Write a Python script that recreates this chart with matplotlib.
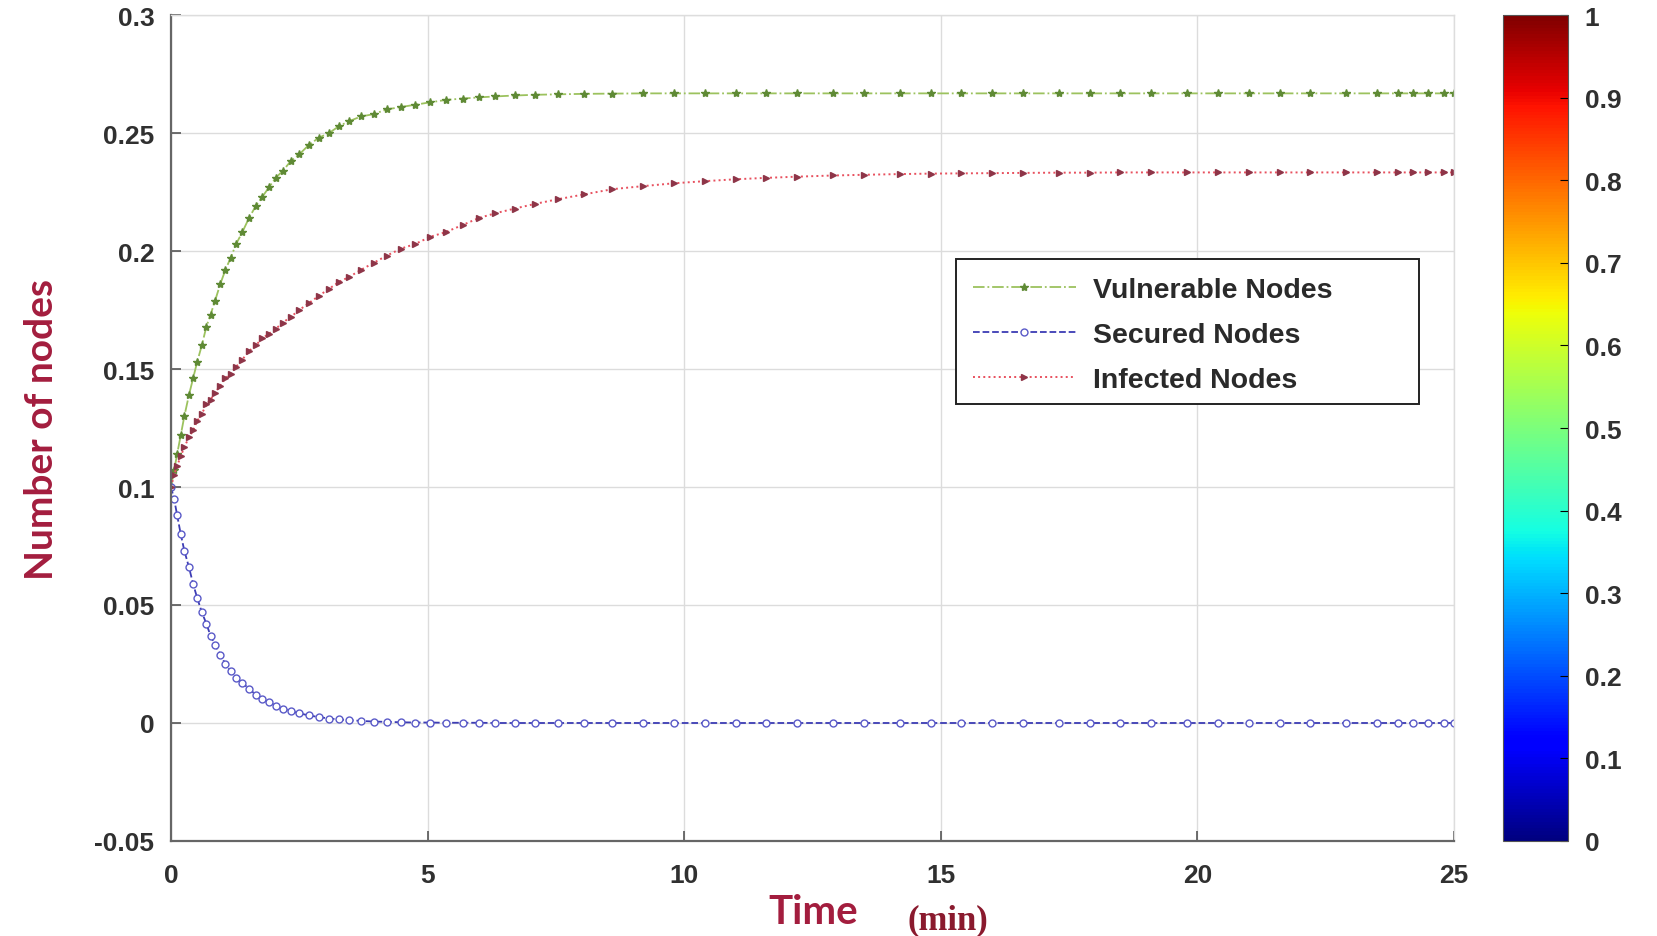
import numpy as np
import matplotlib
matplotlib.use('Agg')
import matplotlib.pyplot as plt
from matplotlib.patches import Rectangle
from matplotlib.ticker import FormatStrFormatter

plt.rcParams['axes.unicode_minus'] = False

# time steps of the solver output (min)
time = [0, 0.06, 0.12, 0.19, 0.26, 0.35, 0.43, 0.51, 0.6, 0.69, 0.77, 0.86, 0.96, 1.06,
        1.16, 1.27, 1.39, 1.52, 1.65, 1.78, 1.91, 2.04, 2.18, 2.33, 2.5, 2.69, 2.88, 3.08,
        3.28, 3.47, 3.7, 3.95, 4.2, 4.48, 4.76, 5.05, 5.35, 5.68, 6.0, 6.32, 6.7, 7.1,
        7.55, 8.05, 8.6, 9.2, 9.8, 10.4, 11.0, 11.6, 12.2, 12.9, 13.5, 14.2, 14.8, 15.4,
        16.0, 16.6, 17.3, 17.9, 18.5, 19.1, 19.8, 20.4, 21.0, 21.6, 22.2, 22.9, 23.5,
        23.9, 24.2, 24.5, 24.8, 25.0]

vulnerable = [0.100, 0.107, 0.114, 0.122, 0.130, 0.139, 0.146, 0.153, 0.160, 0.168, 0.173,
              0.179, 0.186, 0.192, 0.197, 0.203, 0.208, 0.214, 0.219, 0.223, 0.227, 0.231,
              0.234, 0.238, 0.241, 0.245, 0.248, 0.250, 0.253, 0.255, 0.257, 0.258, 0.260,
              0.261, 0.262, 0.263, 0.264, 0.2646, 0.2651, 0.2655, 0.2659, 0.2662, 0.2664,
              0.2666, 0.2667, 0.2668, 0.2668, 0.2668, 0.2668, 0.2668, 0.2668, 0.2668, 0.2668,
              0.2668, 0.2668, 0.2668, 0.2668, 0.2668, 0.2668, 0.2668, 0.2668, 0.2668, 0.2668,
              0.2668, 0.2668, 0.2668, 0.2668, 0.2668, 0.2668, 0.2668, 0.2668, 0.2668, 0.2668,
              0.2668]

secured = [0.100, 0.095, 0.088, 0.080, 0.073, 0.066, 0.059, 0.053, 0.047, 0.042, 0.037,
           0.033, 0.029, 0.025, 0.022, 0.019, 0.017, 0.0145, 0.012, 0.010, 0.0087, 0.0074,
           0.0061, 0.0051, 0.0041, 0.0032, 0.0025, 0.0019, 0.0015, 0.0012, 0.0009, 0.0006,
           0.0005, 0.0003, 0.0002, 0.0002, 0.0001, 0.0001, 0.0001, 0.0, 0.0, 0.0, 0.0, 0.0,
           0.0, 0.0, 0.0, 0.0, 0.0, 0.0, 0.0, 0.0, 0.0, 0.0, 0.0, 0.0, 0.0, 0.0, 0.0, 0.0,
           0.0, 0.0, 0.0, 0.0, 0.0, 0.0, 0.0, 0.0, 0.0, 0.0, 0.0, 0.0, 0.0, 0.0]

infected = [0.100, 0.105, 0.109, 0.113, 0.117, 0.121, 0.124, 0.128, 0.131, 0.135, 0.137,
            0.140, 0.143, 0.146, 0.148, 0.151, 0.154, 0.1576, 0.160, 0.163, 0.165, 0.167,
            0.1697, 0.172, 0.175, 0.178, 0.181, 0.184, 0.187, 0.189, 0.192, 0.195, 0.198,
            0.201, 0.203, 0.206, 0.208, 0.211, 0.214, 0.216, 0.218, 0.220, 0.222, 0.224,
            0.2262, 0.2275, 0.2287, 0.2296, 0.2304, 0.2310, 0.2315, 0.2320, 0.2323, 0.2326,
            0.2328, 0.2329, 0.2330, 0.2331, 0.2332, 0.2332, 0.2333, 0.2333, 0.2333, 0.2333,
            0.2333, 0.2333, 0.2333, 0.2333, 0.2333, 0.2333, 0.2333, 0.2333, 0.2333, 0.2333]

xticks = [0, 5, 10, 15, 20, 25]
yticks = [-0.05, 0, 0.05, 0.1, 0.15, 0.2, 0.25, 0.3]
cbar_ticks = [0, 0.1, 0.2, 0.3, 0.4, 0.5, 0.6, 0.7, 0.8, 0.9, 1]

label_red = '#a31d3e'

fig = plt.figure(figsize=(16.57, 9.37), dpi=100)
ax = fig.add_axes([0.1032, 0.1014, 0.7743, 0.8815])

ax.plot(time, vulnerable, linestyle='-.', color='#9cc25e', lw=1.3,
        marker='*', ms=6, mfc='#5f8a35', mec='#5f8a35', label='Vulnerable Nodes')
ax.plot(time, secured, linestyle='--', color='#3c3cb4', lw=1.3,
        marker='o', ms=5, mfc='white', mec='#5a5ac8', mew=1.0, label='Secured Nodes')
ax.plot(time, infected, linestyle=':', color='#e8505e', lw=1.4,
        marker='>', ms=4, mfc='#8e3548', mec='#8e3548', label='Infected Nodes')

ax.set_xlim(0, 25)
ax.set_ylim(-0.05, 0.3)
ax.set_xticks(xticks)
ax.set_yticks(yticks)
ax.yaxis.set_major_formatter(FormatStrFormatter('%g'))
ax.grid(True, color='#dcdcdc', lw=1.0)
ax.set_axisbelow(True)
ax.tick_params(direction='in', length=7, width=1.2, color='#555555', labelsize=19,
               labelcolor='#303030')
ax.tick_params(axis='x', pad=16)
ax.tick_params(axis='y', pad=12)
for lab in ax.get_xticklabels() + ax.get_yticklabels():
    lab.set_fontweight('bold')
    lab.set_family('Liberation Sans')
for s in ['left', 'bottom']:
    ax.spines[s].set_color('#666666')
    ax.spines[s].set_linewidth(1.6)
for s in ['top', 'right']:
    ax.spines[s].set_color('#dddddd')
    ax.spines[s].set_linewidth(1.0)

ax.set_ylabel('Number of nodes', fontsize=28, color=label_red, family='Lato',
              fontweight='bold')
ax.yaxis.set_label_coords(-0.087, 0.5)
fig.text(0.491, 0.014, 'Time', fontsize=29, color=label_red, family='Lato',
         fontweight='bold', ha='center', va='baseline')
fig.text(0.572, 0.008, '(min)', fontsize=25, color='#8a1a2e', family='Liberation Serif',
         fontweight='bold', ha='center', va='baseline')

# legend box is wider than its contents, as in the original
ax.add_patch(Rectangle((0.612, 0.529), 0.361, 0.1756, transform=ax.transAxes,
                       facecolor='white', edgecolor='#222222', lw=1.4, zorder=4))
leg = ax.legend(loc='upper left', bbox_to_anchor=(0.614, 0.7), borderaxespad=0,
                numpoints=1, frameon=False, handlelength=3.6,
                prop={'family': 'Liberation Sans', 'weight': 'bold', 'size': 20.5},
                labelspacing=0.66, borderpad=0.5, handletextpad=0.6)
leg.set_zorder(5)
for t in leg.get_texts():
    t.set_color('#2a2a2a')

cax = fig.add_axes([0.9071, 0.1014, 0.0392, 0.8815])
sm = plt.cm.ScalarMappable(cmap='jet', norm=plt.Normalize(0, 1))
cb = fig.colorbar(sm, cax=cax, ticks=cbar_ticks)
cb.ax.yaxis.set_major_formatter(FormatStrFormatter('%g'))
cb.outline.set_edgecolor('#555555')
cb.ax.tick_params(direction='in', length=6, labelsize=19, labelcolor='#303030', pad=12)
for lab in cb.ax.get_yticklabels():
    lab.set_fontweight('bold')
    lab.set_family('Liberation Sans')

fig.savefig('out.png', dpi=100)
